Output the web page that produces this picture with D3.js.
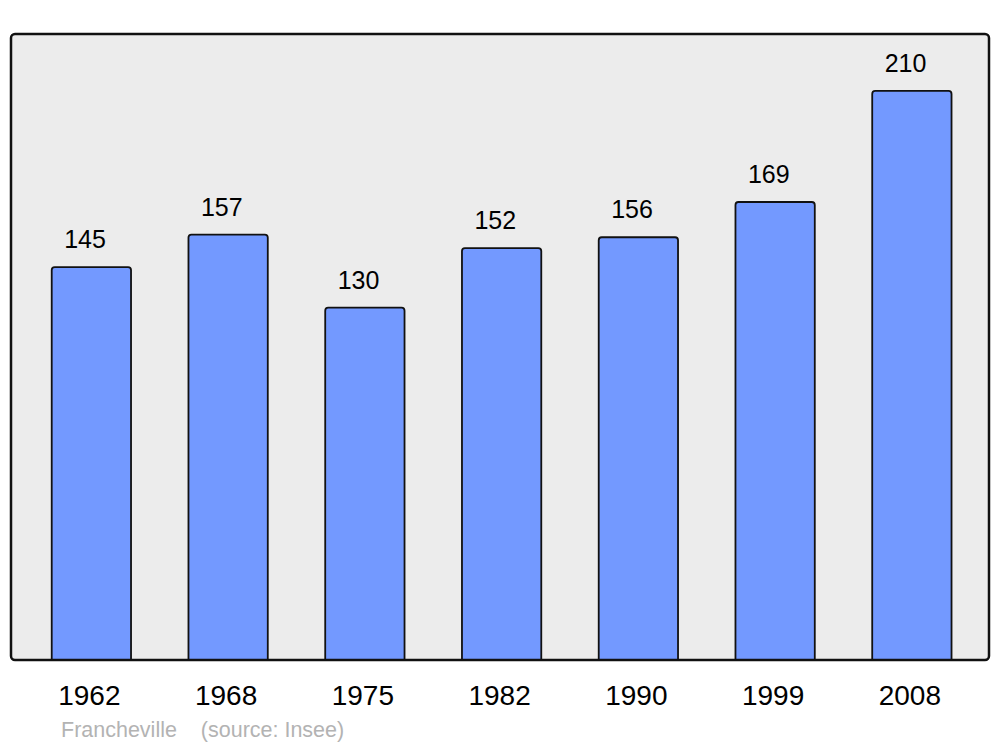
<!DOCTYPE html>
<html>
<head>
<meta charset="utf-8">
<script src="https://cdn.jsdelivr.net/npm/d3@7"></script>
<style>
  body { margin: 0; background: #fff; }
  svg { display: block; font-family: "Liberation Sans", Arial, sans-serif; }
</style>
</head>
<body>
<div id="chart"></div>
<script>
const years = ['1962', '1968', '1975', '1982', '1990', '1999', '2008'];
const population = [145, 157, 130, 152, 156, 169, 210];
const place = 'Francheville';
const source = '(source: Insee)';

const width = 1000;
const height = 747;
const panel = { left: 11, top: 34, right: 989, bottom: 660 };

const svg = d3.select('#chart')
  .append('svg')
  .attr('width', width)
  .attr('height', height);

// clip bars at the baseline so their bottoms stay square
svg.append('clipPath')
  .attr('id', 'panel-clip')
  .append('rect')
  .attr('x', panel.left)
  .attr('y', panel.top)
  .attr('width', panel.right - panel.left)
  .attr('height', panel.bottom - panel.top);

// background panel
svg.append('rect')
  .attr('x', panel.left)
  .attr('y', panel.top)
  .attr('width', panel.right - panel.left)
  .attr('height', panel.bottom - panel.top)
  .attr('rx', 4)
  .attr('fill', '#ececec');

const x = d3.scaleBand()
  .domain(years)
  .range([23, 980.25])
  .paddingInner(0.42)
  .paddingOuter(0.21);

const y = d3.scaleLinear()
  .domain([0, d3.max(population) * 1.1])
  .range([panel.bottom, panel.top]);

const rows = years.map((yr, i) => ({ year: yr, value: population[i] }));

svg.append('g')
  .attr('clip-path', 'url(#panel-clip)')
  .selectAll('rect.bar')
  .data(rows)
  .join('rect')
  .attr('class', 'bar')
  .attr('x', d => x(d.year))
  .attr('y', d => y(d.value))
  .attr('width', x.bandwidth())
  .attr('height', d => y(0) - y(d.value) + 6)
  .attr('rx', 3)
  .attr('fill', '#7399ff')
  .attr('stroke', '#111')
  .attr('stroke-width', 1.8);

// panel border on top
svg.append('rect')
  .attr('x', panel.left)
  .attr('y', panel.top)
  .attr('width', panel.right - panel.left)
  .attr('height', panel.bottom - panel.top)
  .attr('rx', 4)
  .attr('fill', 'none')
  .attr('stroke', '#111')
  .attr('stroke-width', 2.5);

// value labels
svg.selectAll('text.value')
  .data(rows)
  .join('text')
  .attr('class', 'value')
  .attr('x', d => x(d.year) + 12.5)
  .attr('y', d => y(d.value) - 19)
  .attr('font-size', 25)
  .attr('fill', '#000')
  .text(d => d.value);

// year labels
svg.selectAll('text.year')
  .data(rows)
  .join('text')
  .attr('class', 'year')
  .attr('x', d => x(d.year) + x.bandwidth() / 2 - 2)
  .attr('y', 705)
  .attr('text-anchor', 'middle')
  .attr('font-size', 28)
  .attr('fill', '#000')
  .text(d => d.year);

// footer
svg.append('text')
  .attr('x', 61)
  .attr('y', 737)
  .attr('font-size', 21.5)
  .attr('fill', '#b3b3b3')
  .attr('xml:space', 'preserve')
  .text(place + '    ' + source);
</script>
</body>
</html>
